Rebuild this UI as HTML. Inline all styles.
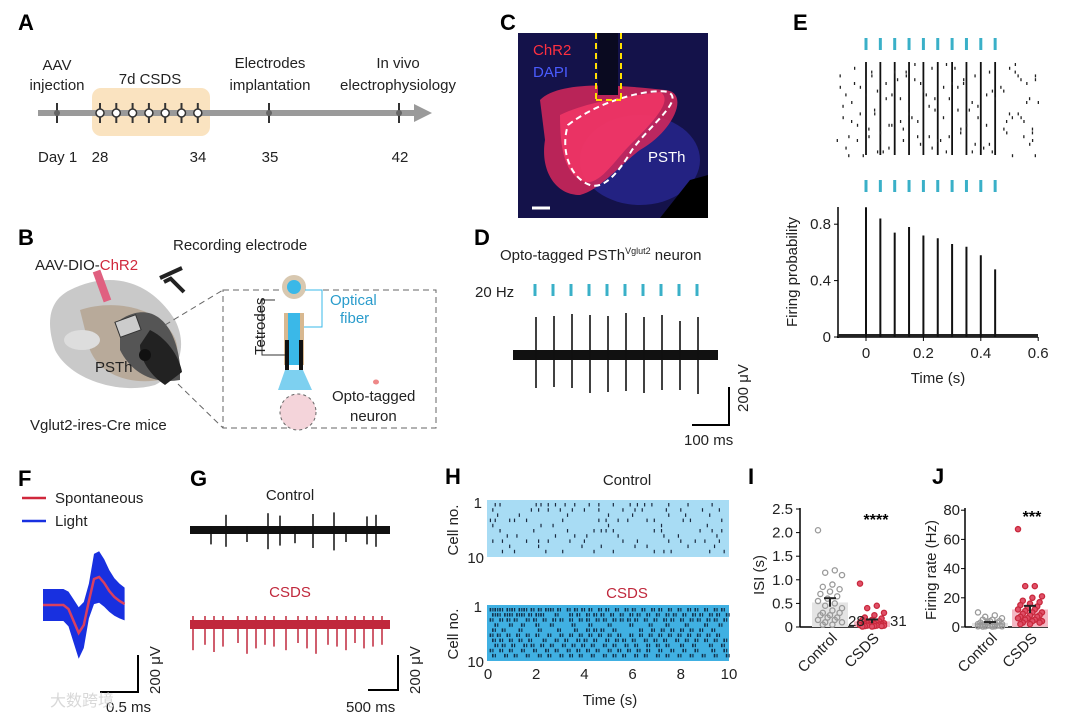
<!DOCTYPE html>
<html><head><meta charset="utf-8">
<style>
body{margin:0;background:#fff;}
svg{display:block;font-family:"Liberation Sans","Noto Sans CJK SC",sans-serif;}
.lbl{font-weight:bold;font-size:22px;}
.t{font-size:15px;fill:#222;}
</style></head>
<body>
<svg id="fig" width="1080" height="719" viewBox="0 0 1080 719">
<!-- Panel A -->
<g>
<text class="lbl" x="18" y="30">A</text>
<rect x="92" y="88" width="118" height="48" rx="9" fill="#fae3c0"/>
<line x1="38" y1="113" x2="418" y2="113" stroke="#9a9a9a" stroke-width="6"/>
<polygon points="414,104 432,113 414,122" fill="#9a9a9a"/>
<g id="aticks"></g>
<text class="t" x="57" y="70" text-anchor="middle">AAV</text>
<text class="t" x="57" y="90" text-anchor="middle">injection</text>
<text class="t" x="150" y="84" text-anchor="middle">7d CSDS</text>
<text class="t" x="270" y="68" text-anchor="middle">Electrodes</text>
<text class="t" x="270" y="90" text-anchor="middle">implantation</text>
<text class="t" x="398" y="68" text-anchor="middle">In vivo</text>
<text class="t" x="398" y="90" text-anchor="middle">electrophysiology</text>
<text class="t" x="38" y="162">Day 1</text>
<text class="t" x="100" y="162" text-anchor="middle">28</text>
<text class="t" x="198" y="162" text-anchor="middle">34</text>
<text class="t" x="270" y="162" text-anchor="middle">35</text>
<text class="t" x="400" y="162" text-anchor="middle">42</text>
</g>
<!-- Panel C -->
<g>
<text class="lbl" x="500" y="30">C</text>
<rect x="518" y="33" width="190" height="185" fill="#14124a"/>
<ellipse cx="640" cy="160" rx="60" ry="45" fill="#2a2a9a" opacity="0.7"/>
<path d="M540,100 C560,80 620,85 665,90 C690,92 675,130 640,150 C620,165 600,190 580,195 C555,195 540,170 545,140 Z" fill="#d6285a" opacity="0.85"/>
<path d="M560,115 C590,100 640,95 660,92 C675,100 650,125 630,145 C615,160 600,185 585,182 C565,175 560,150 560,115 Z" fill="#ff3a6a" opacity="0.7"/>
<path d="M568,125 C600,100 650,88 668,92 C685,100 650,125 632,150 C620,170 605,190 590,185 C570,178 560,150 568,125 Z" fill="none" stroke="#fff" stroke-width="2" stroke-dasharray="6,4"/>
<rect x="598" y="33" width="20" height="62" fill="#0a0a20"/>
<line x1="596" y1="33" x2="596" y2="100" stroke="#ffe000" stroke-width="2" stroke-dasharray="6,4"/>
<line x1="621" y1="33" x2="621" y2="100" stroke="#ffe000" stroke-width="2" stroke-dasharray="6,4"/>
<line x1="596" y1="100" x2="621" y2="100" stroke="#ffe000" stroke-width="2" stroke-dasharray="6,4"/>
<path d="M660,218 L690,180 L708,175 L708,218 Z" fill="#000"/>
<text x="533" y="55" font-size="15" fill="#ff3040">ChR2</text>
<text x="533" y="77" font-size="15" fill="#4a5cff">DAPI</text>
<text x="648" y="162" font-size="15" fill="#fff">PSTh</text>
<line x1="532" y1="208" x2="550" y2="208" stroke="#fff" stroke-width="3"/>
</g>
<!-- Panel B -->
<g>
<text class="lbl" x="18" y="245">B</text>
<text class="t" x="173" y="250">Recording electrode</text>
<text class="t" x="35" y="270">AAV-DIO-<tspan fill="#d0283c">ChR2</tspan></text>
<path d="M160,278 l22,-10 M164,282 l8,-4 m-2,0 l14,14" stroke="#222" stroke-width="4" fill="none"/>
<path d="M70,290 C110,270 150,280 175,320 C190,350 175,375 155,385 C120,395 70,380 55,350 C45,320 50,300 70,290 Z" fill="#c9c9c9"/>
<path d="M80,310 C110,300 150,305 170,330 C185,350 175,370 160,380 C130,385 100,375 90,350 Z" fill="#b8aa9a"/>
<path d="M120,320 C150,300 175,320 180,365 L180,380 C150,385 130,370 120,350 Z" fill="#555"/>
<path d="M150,330 C170,340 180,360 182,372 L165,385 C150,375 140,360 140,345 Z" fill="#222"/>
<ellipse cx="82" cy="340" rx="18" ry="10" fill="#ddd"/>
<ellipse cx="145" cy="355" rx="6" ry="6" fill="#111"/>
<rect x="98" y="270" width="8" height="32" fill="#e06080" transform="rotate(-20 102 286)"/>
<rect x="117" y="318" width="22" height="16" fill="#ccc" stroke="#333" transform="rotate(-20 128 326)"/>
<text class="t" x="95" y="372">PSTh</text>
<text class="t" x="30" y="430">Vglut2-ires-Cre mice</text>
<rect x="223" y="290" width="213" height="138" fill="none" stroke="#666" stroke-dasharray="6,4"/>
<line x1="165" y1="325" x2="223" y2="290" stroke="#666" stroke-dasharray="6,4"/>
<line x1="178" y1="384" x2="223" y2="428" stroke="#666" stroke-dasharray="6,4"/>
<circle cx="294" cy="287" r="12" fill="#d8c8b0"/><circle cx="294" cy="287" r="7" fill="#3ab8e8"/>
<rect x="284" y="313" width="20" height="52" fill="#d8b890"/>
<rect x="288" y="313" width="12" height="52" fill="#3ab8e8"/>
<rect x="285" y="340" width="4" height="30" fill="#111"/><rect x="299" y="340" width="4" height="30" fill="#111"/>
<polygon points="285,370 303,370 312,390 278,390" fill="#7dd0f0"/>
<circle cx="298" cy="412" r="18" fill="#f4d4da" stroke="#666" stroke-dasharray="3,3"/>
<path d="M275,300 L262,300 L262,355 L285,355" fill="none" stroke="#333"/>
<path d="M305,290 L322,290 L322,327 L304,327" fill="none" stroke="#3ab8e8"/>
<text class="t" x="265" y="355" transform="rotate(-90 265 355)">Tetrodes</text>
<text x="330" y="305" font-size="15" fill="#2a9ccc">Optical</text>
<text x="340" y="323" font-size="15" fill="#2a9ccc">fiber</text>
<ellipse cx="376" cy="382" rx="3" ry="2.5" fill="#e88"/>
<text class="t" x="332" y="401">Opto-tagged</text>
<text class="t" x="350" y="421">neuron</text>
</g>
<!-- Panel D -->
<g id="pd">
<text class="lbl" x="474" y="245">D</text>
<text class="t" x="500" y="260">Opto-tagged PSTh<tspan font-size="9" dy="-6">Vglut2</tspan><tspan dy="6"> neuron</tspan></text>
<text class="t" x="475" y="297">20 Hz</text>
<text class="t" x="748" y="412" transform="rotate(-90 748 412)">200 μV</text>
<text class="t" x="684" y="445">100 ms</text>
<path d="M692,425 L729,425 L729,387" fill="none" stroke="#000" stroke-width="2"/>
</g>
<!-- Panel E -->
<g id="pe">
<text class="lbl" x="793" y="30">E</text>
<text class="t" x="938" y="383" text-anchor="middle">Time (s)</text>
<text class="t" x="797" y="272" text-anchor="middle" transform="rotate(-90 797 272)">Firing probability</text>
</g>
<!-- Panel F -->
<g id="pf">
<text class="lbl" x="18" y="486">F</text>
<line x1="22" y1="498" x2="46" y2="498" stroke="#d0283c" stroke-width="2.5"/>
<text class="t" x="55" y="503">Spontaneous</text>
<line x1="22" y1="521" x2="46" y2="521" stroke="#1830e0" stroke-width="2.5"/>
<text class="t" x="55" y="526">Light</text>
<path d="M100,692 L138,692 L138,655" fill="none" stroke="#000" stroke-width="2"/>
<text class="t" x="160" y="694" transform="rotate(-90 160 694)">200 μV</text>
<text class="t" x="106" y="712">0.5 ms</text>
</g>
<!-- Panel G -->
<g id="pg">
<text class="lbl" x="190" y="486">G</text>
<text class="t" x="290" y="500" text-anchor="middle">Control</text>
<text x="290" y="597" font-size="15" fill="#c0283c" text-anchor="middle">CSDS</text>
<path d="M368,690 L398,690 L398,655" fill="none" stroke="#000" stroke-width="2"/>
<text class="t" x="420" y="694" transform="rotate(-90 420 694)">200 μV</text>
<text class="t" x="346" y="712">500 ms</text>
</g>
<!-- Panel H -->
<g id="ph">
<text class="lbl" x="445" y="484">H</text>
<text class="t" x="627" y="485" text-anchor="middle">Control</text>
<text x="627" y="598" font-size="15" fill="#c0283c" text-anchor="middle">CSDS</text>
<text class="t" x="458" y="530" text-anchor="middle" transform="rotate(-90 458 530)">Cell no.</text>
<text class="t" x="458" y="634" text-anchor="middle" transform="rotate(-90 458 634)">Cell no.</text>
<text class="t" x="482" y="508" text-anchor="end">1</text><text class="t" x="484" y="563" text-anchor="end">10</text>
<text class="t" x="482" y="612" text-anchor="end">1</text><text class="t" x="484" y="667" text-anchor="end">10</text>
<text class="t" x="610" y="705" text-anchor="middle">Time (s)</text>
</g>
<!-- Panel I -->
<g id="pi">
<text class="lbl" x="748" y="484">I</text>
<text class="t" x="764" y="575" text-anchor="middle" transform="rotate(-90 764 575)">ISI (s)</text>
<text x="876" y="525" font-size="16" text-anchor="middle" font-weight="bold">****</text>
</g>
<!-- Panel J -->
<g id="pj">
<text class="lbl" x="932" y="484">J</text>
<text class="t" x="936" y="570" text-anchor="middle" transform="rotate(-90 936 570)">Firing rate (Hz)</text>
<text x="1032" y="522" font-size="16" text-anchor="middle" font-weight="bold">***</text>
</g>
<text x="50" y="706" font-size="16" fill="#d8d8d8">大数跨境</text>
</svg>
<script>
// ---- data ----
const timelineDays=[1,28,29,30,31,32,33,34,35,42];
const stimTimesE=[0,0.05,0.1,0.15,0.2,0.25,0.3,0.35,0.4,0.45];
const peakProbE=[0.92,0.84,0.74,0.78,0.72,0.70,0.66,0.64,0.58,0.48];
const eYTicks=[0,0.4,0.8];
const eXTicks=[0,0.2,0.4,0.6];
const eBgSpikeT=[-0.09,-0.07,-0.05,-0.03,0.02,0.03,0.07,0.08,0.12,0.13,0.17,0.18,0.22,0.23,0.27,0.28,0.32,0.33,0.37,0.38,0.42,0.43,0.48,0.5,0.52,0.55,0.57,0.59,-0.08,-0.04,0.01,0.06,0.11,0.16,0.21,0.26,0.31,0.36,0.41,0.47,0.49,0.53,0.56,0.58,-0.06,-0.02,0.04,0.09,0.14,0.19,0.24,0.29,0.34,0.39,0.44,0.51,0.54,0.58,-0.1,0.0];
const eBgSpikeRow=[3,8,15,20,2,12,5,22,9,17,4,19,11,1,14,23,6,18,10,3,16,21,7,13,2,19,9,24,11,5,17,23,4,14,8,20,1,12,22,6,15,3,10,18,24,13,7,16,2,21,9,19,5,11,23,14,4,17,20,8];
const dStimMs=[0,50,100,150,200,250,300,350,400,450];
const dSpikeUp=[190,195,205,200,195,210,190,200,170,190];
const dSpikeDown=[-165,-160,-165,-190,-185,-180,-190,-175,-175,-195];
const fMeanUv=[0,0,0,0,0,-20,-80,-140,-100,20,130,140,110,70,40,20,5];
const gCtrlT=[0.35,0.6,0.95,1.3,1.5,1.75,2.05,2.4,2.6,2.95,3.1];
const gCtrlAmp=[-120,140,-100,160,130,-110,150,170,-100,120,140];
const gCsdsT=[0.05,0.25,0.4,0.55,0.8,0.95,1.1,1.25,1.4,1.6,1.8,1.95,2.1,2.3,2.45,2.6,2.75,2.9,3.05,3.2];
const gCsdsAmp=[140,110,150,120,100,160,130,110,120,140,100,130,160,110,120,140,100,130,120,110];
const hCtrlSpikes=[
[0.3,0.5,2,2.2,2.5,2.8,3.2,3.6,4.2,4.6,5.2,5.9,6.2,6.5,6.8,7.5,8.3,9.3],
[0.2,1.8,2.1,2.5,3.0,3.5,4.0,4.6,5.6,6.1,6.4,7.4,8.0,8.9,9.6],
[0.4,1.3,3.3,5.0,6.0,7.5,8.2,9.2],
[0.1,0.3,0.9,1.1,1.6,3.1,4.6,4.9,5.4,5.8,6.6,6.9,8.1,8.4,9.7],
[0.2,2.2,2.7,5.0,7.2,9.1],
[0.5,1.9,3.3,4.4,4.7,4.9,5.2,6.9,7.2,8.8,9.3,9.7],
[0.8,1.2,2.8,3.6,4.1,5.4,7.3,7.9,9.5],
[0.2,0.6,1.6,2.1,2.5,3.4,4.0,5.6,6.2,7.5,8.0,8.6,9.0,9.6],
[0.9,2.1,3.9,4.7,6.1,6.6,8.3,9.4],
[0.6,1.1,2.4,3.1,4.4,5.2,6.9,7.3,7.6,9.2,9.8]];
const hCsdsSpikes=[
[0.1,0.3,0.5,0.8,1.0,1.3,1.5,1.8,2.1,2.4,2.6,2.9,3.3,3.6,3.9,4.2,4.6,4.9,5.3,5.7,6.0,6.4,6.8,7.1,7.5,7.9,8.3,8.6,9.0,9.4,9.7],
[0.2,0.4,0.7,0.9,1.2,1.4,1.7,2.0,2.2,2.8,3.4,3.7,4.1,4.4,4.7,5.1,5.5,5.9,6.2,6.6,7.0,7.4,7.7,8.1,8.5,8.8,9.2,9.5,9.9],
[0.1,0.5,0.8,1.1,1.6,1.9,2.3,2.7,3.0,3.4,3.8,4.1,4.5,4.8,5.2,5.5,5.8,6.1,6.5,6.9,7.3,7.6,8.0,8.4,8.7,9.1,9.4,9.8],
[0.3,0.9,1.4,2.0,2.6,3.5,4.2,5.0,5.9,6.7,7.4,8.2,9.0,9.6],
[0.2,0.6,1.3,2.1,2.9,3.6,4.1,4.4,4.7,5.2,6.3,6.8,7.2,7.6,8.0,8.4,8.8,9.3],
[0.1,0.4,0.8,1.2,1.6,2.0,2.5,3.0,3.4,3.8,4.2,4.6,5.0,5.4,5.9,6.3,6.7,7.1,7.5,7.9,8.3,8.7,9.1,9.5],
[0.2,0.5,0.9,1.3,1.7,2.3,2.8,3.2,3.7,4.0,4.4,4.9,5.3,5.6,6.0,6.5,6.9,7.3,7.8,8.2,8.6,9.0,9.4,9.8],
[0.3,0.6,1.0,1.5,1.8,2.2,2.6,3.1,3.5,3.9,4.3,4.8,5.2,5.7,6.1,6.6,7.0,7.4,8.0,8.5,9.2,9.7],
[0.1,0.5,0.9,1.4,1.9,2.4,2.8,3.3,3.7,4.1,4.5,5.0,5.4,5.8,6.2,6.6,7.1,7.6,8.1,8.6,9.3,9.8],
[0.2,0.7,1.1,1.6,2.1,2.5,3.0,3.4,3.8,4.3,4.8,5.2,5.6,6.1,6.5,7.0,7.4,7.9,8.4,8.9,9.4,9.9]];
const hXTicks=[0,2,4,6,8,10];
const iCategories=["Control","CSDS"];
const iCtrl=[2.05,1.2,1.15,1.1,0.9,0.85,0.8,0.75,0.7,0.65,0.6,0.55,0.5,0.45,0.4,0.35,0.3,0.3,0.25,0.25,0.2,0.2,0.15,0.15,0.1,0.1,0.05,0.05];
const iCsds=[0.92,0.45,0.4,0.3,0.25,0.2,0.18,0.15,0.15,0.12,0.1,0.1,0.1,0.08,0.08,0.07,0.06,0.06,0.05,0.05,0.05,0.04,0.04,0.03,0.03,0.03,0.02,0.02,0.02,0.01,0.01];
const iMeans=[0.52,0.12];
const iSem=[0.09,0.04];
const iYTicks=[0,0.5,1.0,1.5,2.0,2.5];
const iYLabels=["0","0.5","1.0","1.5","2.0","2.5"];
const jCtrl=[10,8,7,6,5,5,4,4,3,3,3,2,2,2,2,1.5,1.5,1,1,1,1,1,0.5,0.5,0.5,0.5,0.3,0.3];
const jCsds=[67,28,28,21,20,18,17,16,15,14,13,12,12,11,10,10,9,8,8,7,7,6,6,5,5,4,4,3,3,2,2];
const jMeans=[2.8,12];
const jSem=[0.6,2.5];
const jYTicks=[0,20,40,60,80];

const NS="http://www.w3.org/2000/svg";
function mk(parent,tag,attrs,name,txt){
  const el=document.createElementNS(NS,tag);
  for(const k in attrs) el.setAttribute(k,attrs[k]);
  
  
  if(txt!==undefined) el.textContent=txt;
  parent.appendChild(el); return el;
}
const byId=id=>document.getElementById(id);

// ---- Panel A ticks ----
const xDay=d=> d===1?57: d<=34? 100+(d-28)*16.3 : d===35?269:399;
timelineDays.forEach(d=>{
  const x=xDay(d);
  mk(byId('aticks'),'line',{x1:x,y1:103,x2:x,y2:123,stroke:'#333','stroke-width':2},'timeline-tick');
  if(d>=28&&d<=34) mk(byId('aticks'),'circle',{cx:x,cy:113,r:4,fill:'#fff',stroke:'#333','stroke-width':1.5},'csds-day-marker');
  else mk(byId('aticks'),'circle',{cx:x,cy:113,r:3,fill:'#666'},'day-marker');
});

// ---- Panel E ----
const pe=byId('pe');
const xE=t=>866+t*287, yE=p=>337-p*141;
stimTimesE.forEach(t=>{
  mk(pe,'line',{x1:xE(t),y1:38,x2:xE(t),y2:50,stroke:'#3ab0c8','stroke-width':3},'e-stim-top');
  mk(pe,'line',{x1:xE(t),y1:180,x2:xE(t),y2:192,stroke:'#3ab0c8','stroke-width':3},'e-stim-bottom');
  mk(pe,'line',{x1:xE(t),y1:62,x2:xE(t),y2:155,stroke:'#111','stroke-width':1.8},'e-raster-evoked');
});
eBgSpikeT.forEach((t,i)=>{
  const y=63+eBgSpikeRow[i]*3.8;
  mk(pe,'line',{x1:xE(t),y1:y,x2:xE(t),y2:y+3,stroke:'#222','stroke-width':1.3},'e-raster-spike');
  const y2=63+((eBgSpikeRow[i]+11)%25)*3.8;
  mk(pe,'line',{x1:xE(t)+3,y1:y2,x2:xE(t)+3,y2:y2+3,stroke:'#222','stroke-width':1.3},'e-raster-spike');
});
mk(pe,'line',{x1:838,y1:207,x2:838,y2:338,stroke:'#000','stroke-width':1.5},'e-y-axis');
mk(pe,'line',{x1:837,y1:337,x2:1038,y2:337,stroke:'#000','stroke-width':1.5},'e-x-axis');
mk(pe,'rect',{x:838,y:334,width:200,height:3,fill:'#222'},'e-baseline-noise');
stimTimesE.forEach((t,i)=>{
  mk(pe,'line',{x1:xE(t),y1:yE(0),x2:xE(t),y2:yE(peakProbE[i]),stroke:'#111','stroke-width':2},'e-bar');
});
eYTicks.forEach(v=>{
  mk(pe,'line',{x1:834,y1:yE(v),x2:838,y2:yE(v),stroke:'#000'},'e-y-tick');
  mk(pe,'text',{x:831,y:yE(v)+5,'text-anchor':'end','font-size':15,fill:'#222'},'e-y-tick-label',String(v));
});
eXTicks.forEach(v=>{
  mk(pe,'line',{x1:xE(v),y1:337,x2:xE(v),y2:341,stroke:'#000'},'e-x-tick');
  mk(pe,'text',{x:xE(v),y:358,'text-anchor':'middle','font-size':15,fill:'#222'},'e-x-tick-label',String(v));
});

// ---- Panel D ----
const pd=byId('pd');
const xD=ms=>535+ms*0.36, yD=v=>355-v*0.2;
mk(pd,'rect',{x:513,y:350,width:205,height:10,fill:'#111'},'d-trace-noise');
dStimMs.forEach((ms,i)=>{
  mk(pd,'line',{x1:xD(ms),y1:284,x2:xD(ms),y2:296,stroke:'#3ab0c8','stroke-width':3},'d-stim-tick');
  const x=xD(ms)+1;
  mk(pd,'line',{x1:x,y1:yD(dSpikeUp[i]),x2:x,y2:yD(dSpikeDown[i]),stroke:'#111','stroke-width':1.6},'d-spike');
});

// ---- Panel F ----
const pf=byId('pf');
const xF=i=>43+i*5.1, yF=v=>605-v*0.2;
let fTop='',fBot='',fMean='';
fMeanUv.forEach((v,i)=>{
  const s=16+Math.abs(v)*0.07;
  fTop+=(i?'L':'M')+xF(i)+','+(yF(v)-s);
  fMean+=(i?'L':'M')+xF(i)+','+yF(v);
});
for(let i=fMeanUv.length-1;i>=0;i--){const v=fMeanUv[i];const s=16+Math.abs(v)*0.07;fBot+='L'+xF(i)+','+(yF(v)+s);}
mk(pf,'path',{d:fTop+fBot+'Z',fill:'#1830e0'},'f-light-waveforms');
mk(pf,'path',{d:fMean,fill:'none',stroke:'#d84060','stroke-width':2.5},'f-spontaneous-mean');

// ---- Panel G ----
const pg=byId('pg');
const xG=t=>190+t*60;
mk(pg,'rect',{x:190,y:526,width:200,height:8,fill:'#111'},'g-control-trace');
gCtrlT.forEach((t,i)=>{const a=gCtrlAmp[i];
  mk(pg,'line',{x1:xG(t),y1:530-Math.max(a,0)*0.08-4,x2:xG(t),y2:530+Math.abs(a)*0.12,stroke:'#111','stroke-width':1.5},'g-control-spike');});
mk(pg,'rect',{x:190,y:620,width:200,height:9,fill:'#c0283c'},'g-csds-trace');
gCsdsT.forEach((t,i)=>{
  mk(pg,'line',{x1:xG(t),y1:616,x2:xG(t),y2:625+gCsdsAmp[i]*0.18,stroke:'#c0283c','stroke-width':1.5},'g-csds-spike');});

// ---- Panel H ----
const ph=byId('ph');
const xH=t=>488+t*24.1;
mk(ph,'rect',{x:487,y:500,width:242,height:57,fill:'#a8dcf4'},'h-control-bg');
mk(ph,'rect',{x:487,y:605,width:242,height:56,fill:'#40b0e2'},'h-csds-bg');
hCtrlSpikes.forEach((row,r)=>row.forEach(t=>{const y=503+r*5.2;
  mk(ph,'line',{x1:xH(t),y1:y,x2:xH(t),y2:y+3.5,stroke:'#1a2a40','stroke-width':1.2},'h-control-spike');}));
hCsdsSpikes.forEach((row,r)=>row.forEach(t=>{const y=608+r*5.1;
  mk(ph,'line',{x1:xH(t),y1:y,x2:xH(t),y2:y+3.5,stroke:'#12304a','stroke-width':1.6},'h-csds-spike');
  mk(ph,'line',{x1:xH(t)+2.5,y1:y,x2:xH(t)+2.5,y2:y+3.5,stroke:'#12304a','stroke-width':1.2},'h-csds-spike');}));
hXTicks.forEach(v=>mk(ph,'text',{x:xH(v),y:679,'text-anchor':'middle','font-size':15,fill:'#222'},'h-x-tick-label',String(v)));

// ---- Panel I / J ----
function dotPlot(g,prefix,yFn,ctrl,csds,means,sems,xc,barW,axX,axEnd,yTop){
  const groups=[ctrl,csds];
  const fills=['#e4e4e4','#f4b8c4'],strokes=['#999','#c8283c'];
  mk(g,'line',{x1:axX,y1:yTop,x2:axX,y2:yFn(0),stroke:'#000','stroke-width':1.5},prefix+'-y-axis');
  mk(g,'line',{x1:axX,y1:yFn(0),x2:axEnd,y2:yFn(0),stroke:'#000','stroke-width':1.5},prefix+'-x-axis');
  groups.forEach((vals,gi)=>{
    mk(g,'rect',{x:xc[gi]-barW/2,y:yFn(means[gi]),width:barW,height:yFn(0)-yFn(means[gi]),fill:fills[gi]},prefix+'-bar-'+iCategories[gi].toLowerCase());
    vals.forEach((v,i)=>{
      const off=((i*7)%11-5)*2.4;
      mk(g,'circle',{cx:xc[gi]+off,cy:yFn(v),r:2.6,fill:gi?'#e05068':'none',stroke:strokes[gi],'stroke-width':1.3},prefix+'-point');
    });
    mk(g,'line',{x1:xc[gi],y1:yFn(means[gi]-sems[gi]),x2:xc[gi],y2:yFn(means[gi]+sems[gi]),stroke:'#222','stroke-width':2},prefix+'-error-bar');
    mk(g,'line',{x1:xc[gi]-6,y1:yFn(means[gi]+sems[gi]),x2:xc[gi]+6,y2:yFn(means[gi]+sems[gi]),stroke:'#222','stroke-width':2},prefix+'-error-cap');
    const lx=xc[gi]+8,ly=yFn(0)+12;
    mk(g,'text',{x:lx,y:ly,'text-anchor':'end','font-size':15,fill:'#222',transform:`rotate(-45 ${lx} ${ly})`},prefix+'-category-label',iCategories[gi]);
  });
}
const yI=v=>627-v*47.2;
const pi=byId('pi');
dotPlot(pi,'i',yI,iCtrl,iCsds,iMeans,iSem,[830,872],36,800,882,508);
iYTicks.forEach((v,k)=>{mk(pi,'line',{x1:796,y1:yI(v),x2:800,y2:yI(v),stroke:'#000'},'i-y-tick');
  mk(pi,'text',{x:793,y:yI(v)+5,'text-anchor':'end','font-size':15,fill:'#222'},'i-y-tick-label',iYLabels[k]);});
mk(pi,'text',{x:848,y:626,'font-size':15,fill:'#222'},'i-n-control','28');
mk(pi,'text',{x:890,y:626,'font-size':15,fill:'#222'},'i-n-csds','31');
const yJ=v=>627-v*1.46;
const pj=byId('pj');
dotPlot(pj,'j',yJ,jCtrl,jCsds,jMeans,jSem,[990,1030],36,965,1048,508);
jYTicks.forEach(v=>{mk(pj,'line',{x1:961,y1:yJ(v),x2:965,y2:yJ(v),stroke:'#000'},'j-y-tick');
  mk(pj,'text',{x:960,y:yJ(v)+5,'text-anchor':'end','font-size':15,fill:'#222'},'j-y-tick-label',String(v));});
</script>
</body></html>
